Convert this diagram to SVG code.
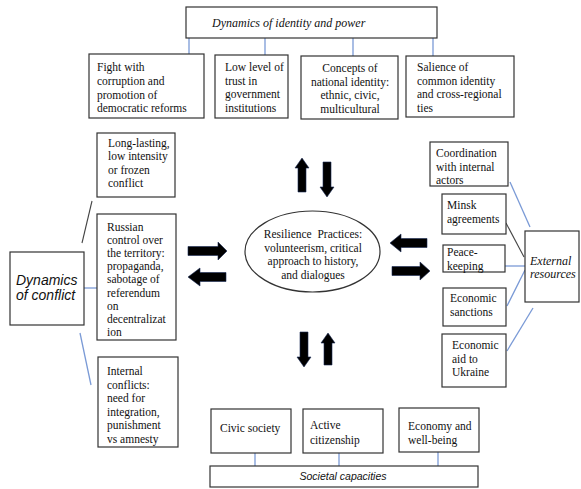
<svg xmlns="http://www.w3.org/2000/svg" width="581" height="489" viewBox="0 0 581 489" font-family="Liberation Serif, Times New Roman, DejaVu Serif, serif">
<style>
.box{fill:#fff;stroke:#333;stroke-width:1.2}
.t{font-size:11.5px;fill:#111}
.ti{font-size:12px;font-style:italic;fill:#111}
.si{font-style:italic;fill:#111}
.c{text-anchor:middle}
.blue{stroke:#7a9ad6;stroke-width:1.3;fill:none}
.dark{stroke:#444;stroke-width:1.1;fill:none}
.arr{fill:#000;stroke:#1a2a55;stroke-width:0.6}
</style>
<rect width="581" height="489" fill="#fff"/>
<g id="connectors">
<line class="blue" x1="189" y1="38" x2="189" y2="54"/>
<line class="blue" x1="265" y1="38" x2="265" y2="55"/>
<line class="blue" x1="353" y1="38" x2="353" y2="56"/>
<line class="blue" x1="433" y1="38" x2="433" y2="56"/>
<line class="dark" x1="82" y1="243" x2="92" y2="201"/>
<line class="blue" x1="84" y1="288" x2="97" y2="288"/>
<line class="blue" x1="80" y1="333" x2="91" y2="385"/>
<line class="blue" x1="510" y1="182" x2="530" y2="227"/>
<line class="dark" x1="506" y1="223" x2="524" y2="257"/>
<line class="blue" x1="505" y1="266" x2="525" y2="266"/>
<line class="blue" x1="507" y1="306" x2="525" y2="270"/>
<line class="blue" x1="507" y1="351" x2="533" y2="308"/>
<line class="blue" x1="255" y1="453" x2="255" y2="466"/>
<line class="blue" x1="339" y1="453" x2="339" y2="466"/>
<line class="blue" x1="438" y1="452" x2="438" y2="466"/>
<path class="arr" d="M188,246.5 H218 V242 L227,251 L218,260 V255.5 H188 Z"/>
<path class="arr" d="M188,277 L200,268 V272.5 H226 V281.5 H200 V286 Z"/>
<path class="arr" d="M390,243 L401,234 V238.5 H427 V247.5 H401 V252 Z"/>
<path class="arr" d="M392,266.5 H420 V262 L430,271 L420,280 V275.5 H392 Z"/>
<path class="arr" d="M302,158 L309,168 H306 V192 H298 V168 H295 Z"/>
<path class="arr" d="M323,162 H331 V187 H334 L327,197 L320,187 H323 Z"/>
<path class="arr" d="M300,332 H308 V357 H311 L304,367 L297,357 H300 Z"/>
<path class="arr" d="M328,333 L335,343 H332 V365 H324 V343 H321 Z"/>
</g>
<g id="identity-power">
<rect class="box" x="186" y="7" width="251" height="31"/>
<text class="ti" x="212" y="27">Dynamics of identity and power</text>
</g>
<g id="corruption">
<rect class="box" x="89" y="54" width="115" height="64"/>
<text class="t" x="97" y="71">Fight with</text>
<text class="t" x="97" y="85">corruption and</text>
<text class="t" x="97" y="98.5">promotion of</text>
<text class="t" x="97" y="112">democratic reforms</text>
</g>
<g id="trust">
<rect class="box" x="215" y="55" width="73" height="63"/>
<text class="t" x="225" y="71">Low level of</text>
<text class="t" x="225" y="84.5">trust in</text>
<text class="t" x="225" y="98">government</text>
<text class="t" x="225" y="112">institutions</text>
</g>
<g id="national-identity">
<rect class="box" x="301" y="56" width="97" height="63"/>
<text class="t c" x="350" y="72">Concepts of</text>
<text class="t c" x="350" y="85.5">national identity:</text>
<text class="t c" x="350" y="99">ethnic, civic,</text>
<text class="t c" x="350" y="112.5">multicultural</text>
</g>
<g id="common-identity">
<rect class="box" x="406" y="56" width="108" height="61"/>
<text class="t" x="417" y="71">Salience of</text>
<text class="t" x="417" y="84.5">common identity</text>
<text class="t" x="417" y="98">and cross-regional</text>
<text class="t" x="417" y="111.5">ties</text>
</g>
<g id="long-lasting">
<rect class="box" x="97" y="133" width="78" height="64"/>
<text class="t" x="108" y="146.5">Long-lasting,</text>
<text class="t" x="108" y="160">low intensity</text>
<text class="t" x="108" y="173.5">or frozen</text>
<text class="t" x="108" y="187">conflict</text>
</g>
<g id="russian-control">
<rect class="box" x="97" y="214" width="79" height="126"/>
<text class="t" x="107" y="230.5">Russian</text>
<text class="t" x="107" y="243.7">control over</text>
<text class="t" x="107" y="256.9">the territory:</text>
<text class="t" x="107" y="270.1">propaganda,</text>
<text class="t" x="107" y="283.3">sabotage of</text>
<text class="t" x="107" y="296.5">referendum</text>
<text class="t" x="107" y="309.7">on</text>
<text class="t" x="107" y="322.9">decentralizat</text>
<text class="t" x="107" y="336.1">ion</text>
</g>
<g id="dynamics-conflict">
<rect class="box" x="10" y="252" width="74" height="73"/>
<text class="si" x="16" y="285" font-size="14" font-family="Liberation Sans, Arial, sans-serif">Dynamics</text>
<text class="si" x="16" y="300" font-size="14" font-family="Liberation Sans, Arial, sans-serif">of conflict</text>
</g>
<g id="internal-conflicts">
<rect class="box" x="98" y="357" width="80" height="90"/>
<text class="t" x="107" y="375">Internal</text>
<text class="t" x="107" y="388.5">conflicts:</text>
<text class="t" x="107" y="402">need for</text>
<text class="t" x="107" y="415.5">integration,</text>
<text class="t" x="107" y="429">punishment</text>
<text class="t" x="107" y="442.5">vs amnesty</text>
</g>
<g id="resilience">
<ellipse cx="312.5" cy="251.5" rx="67.5" ry="40.5" fill="#fff" stroke="#333" stroke-width="1.2"/>
<text class="t c" x="313" y="238" xml:space="preserve">Resilience  Practices:</text>
<text class="t c" x="313" y="251.5">volunteerism, critical</text>
<text class="t c" x="313" y="265">approach to history,</text>
<text class="t c" x="313" y="278.5">and dialogues</text>
</g>
<g id="coordination">
<rect class="box" x="430" y="142" width="78" height="44"/>
<text class="t" x="436" y="157">Coordination</text>
<text class="t" x="436" y="170.5">with internal</text>
<text class="t" x="436" y="184">actors</text>
</g>
<g id="minsk">
<rect class="box" x="442" y="194" width="64" height="40"/>
<text class="t" x="447" y="209">Minsk</text>
<text class="t" x="447" y="222.5">agreements</text>
</g>
<g id="peacekeeping">
<rect class="box" x="443" y="245" width="62" height="27"/>
<text class="t" x="447" y="256">Peace-</text>
<text class="t" x="447" y="270">keeping</text>
</g>
<g id="sanctions">
<rect class="box" x="443" y="288" width="63" height="38"/>
<text class="t" x="450" y="302">Economic</text>
<text class="t" x="450" y="316">sanctions</text>
</g>
<g id="economic-aid">
<rect class="box" x="442" y="334" width="64" height="53"/>
<text class="t" x="452" y="349">Economic</text>
<text class="t" x="452" y="362.5">aid to</text>
<text class="t" x="452" y="376">Ukraine</text>
</g>
<g id="external-resources">
<rect class="box" x="525" y="231" width="54" height="71"/>
<text class="ti" x="530" y="265">External</text>
<text class="ti" x="530" y="278">resources</text>
</g>
<g id="civic-society">
<rect class="box" x="211" y="409" width="80" height="44"/>
<text class="t" x="220" y="432">Civic society</text>
</g>
<g id="active-citizenship">
<rect class="box" x="303" y="409" width="80" height="44"/>
<text class="t" x="310" y="429">Active</text>
<text class="t" x="310" y="444">citizenship</text>
</g>
<g id="economy">
<rect class="box" x="399" y="408" width="80" height="44"/>
<text class="t" x="408" y="430">Economy and</text>
<text class="t" x="408" y="444">well-being</text>
</g>
<g id="societal-capacities">
<rect class="box" x="210" y="466" width="268" height="21"/>
<text class="si c" x="343" y="480" font-size="10.5" font-family="Liberation Sans, Arial, sans-serif">Societal capacities</text>
</g>
</svg>
